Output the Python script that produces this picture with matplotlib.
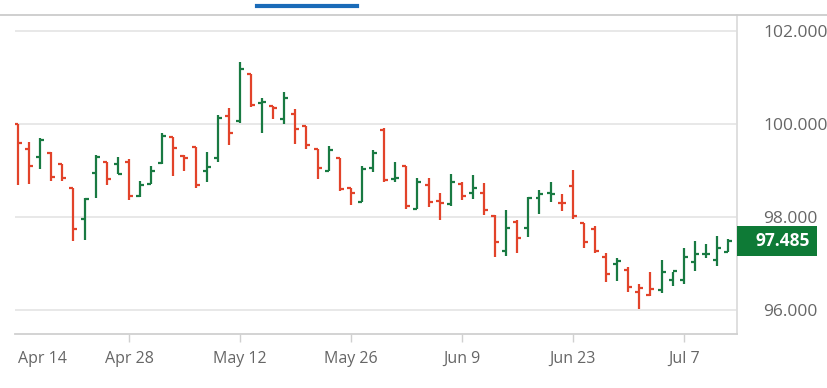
import matplotlib.pyplot as plt
import matplotlib.transforms as mtransforms
from matplotlib.lines import Line2D
from matplotlib.patches import Rectangle
import pandas as pd

# daily OHLC, Apr 14 - Jul 11 (weekdays)
dates = pd.bdate_range("2025-04-14", "2025-07-11")
prev_close = 100.10

opens = [100.01, 99.46, 99.30, 99.38, 99.13, 98.63, 97.95, 98.95, 99.18, 99.14,
         99.19, 98.46, 98.71, 99.17, 99.71, 99.32, 99.51, 99.00, 99.26, 100.17,
         100.07, 101.07, 100.46, 100.39, 100.11, 100.21, 99.96, 99.46, 99.00, 99.28,
         98.63, 98.33, 99.05, 99.87, 98.82, 99.10, 98.17, 98.69, 98.34, 98.29,
         98.72, 98.51, 98.52, 98.02, 97.28, 97.90, 97.77, 98.40, 98.51, 98.30,
         98.67, 97.88, 97.74, 97.15, 96.99, 96.86, 96.40, 96.33, 96.43, 96.66,
         96.66, 97.04, 97.21, 97.08, 97.26]
highs = [100.01, 99.61, 99.69, 99.40, 99.15, 98.63, 98.42, 99.33, 99.18, 99.30,
         99.24, 98.77, 99.10, 99.80, 99.71, 99.33, 99.51, 99.40, 100.19, 100.34,
         101.34, 101.07, 100.55, 100.39, 100.68, 100.32, 99.96, 99.46, 99.53, 99.28,
         98.63, 99.10, 99.44, 99.92, 99.18, 99.10, 98.83, 98.85, 98.52, 98.92,
         98.76, 98.90, 98.74, 98.04, 98.15, 97.94, 98.44, 98.58, 98.76, 98.49,
         99.01, 97.88, 97.80, 97.22, 97.13, 96.93, 96.56, 96.83, 97.08, 96.83,
         97.33, 97.49, 97.42, 97.59, 97.52]
lows = [98.70, 98.72, 99.03, 98.77, 98.77, 97.48, 97.51, 98.40, 98.69, 98.92,
        98.37, 98.44, 98.71, 99.15, 98.88, 98.99, 98.63, 98.76, 99.19, 99.55,
        100.03, 100.37, 99.81, 100.10, 100.01, 99.56, 99.46, 98.82, 98.98, 98.57,
        98.26, 98.32, 98.96, 98.76, 98.76, 98.17, 98.17, 98.21, 97.94, 98.24,
        98.37, 98.38, 98.04, 97.15, 97.16, 97.24, 97.58, 98.06, 98.33, 98.14,
        97.95, 97.33, 97.24, 96.61, 96.63, 96.40, 96.02, 96.30, 96.37, 96.53,
        96.56, 96.85, 97.13, 96.96, 97.26]
closes = [99.60, 99.10, 99.66, 98.86, 98.83, 97.74, 98.38, 99.30, 98.82, 98.93,
          98.45, 98.69, 98.98, 99.75, 99.48, 99.28, 98.69, 99.07, 100.12, 99.80,
          101.18, 100.41, 100.48, 100.34, 100.55, 99.89, 99.55, 99.05, 99.44, 98.60,
          98.51, 99.03, 99.37, 98.80, 98.83, 98.24, 98.76, 98.33, 98.31, 98.76,
          98.45, 98.63, 98.15, 97.47, 97.76, 97.56, 98.42, 98.49, 98.50, 98.30,
          98.02, 97.46, 97.28, 96.77, 97.06, 96.49, 96.47, 96.45, 96.83, 96.84,
          97.15, 97.20, 97.21, 97.33, 97.485]

yticks = [96, 98, 100, 102]
tick_every = 10

RED = "#e2432a"
GREEN = "#197a42"
GRID = "#e6e6e6"
TXT = "#666666"

plt.rcParams["font.family"] = ["Open Sans", "DejaVu Sans"]

fig = plt.figure(figsize=(8.28, 3.88), dpi=100)
W, H = 828, 388
ax = fig.add_axes([15 / W, 1 - 334 / H, (737 - 15) / W, (334 - 15) / H])

x = list(range(len(dates)))
colors = []
last = prev_close
for c in closes:
    colors.append(GREEN if c >= last else RED)
    last = c

tw = 0.36
ax.vlines(x, lows, highs, colors=colors, linewidth=1.6, capstyle="butt", zorder=3)
ax.hlines(opens, [i - tw for i in x], x, colors=colors, linewidth=1.6, zorder=3)
ax.hlines(closes, x, [i + tw for i in x], colors=colors, linewidth=1.6, zorder=3)

ax.set_xlim(-0.27, 64.8)
ax.set_ylim(95.49, 102.34)

for v in yticks:
    ax.axhline(v, color=GRID, linewidth=1.3, zorder=1)

ax.yaxis.tick_right()
ax.set_yticks(yticks)
ax.set_yticklabels([f"{v:.3f}" for v in yticks])
ax.tick_params(axis="y", length=0, pad=19, labelsize=12.5, labelcolor=TXT)

tick_idx = list(range(0, len(dates), tick_every))
ax.set_xticks(tick_idx)
labels = [d.strftime("%b ") + str(d.day) for d in dates[tick_idx]]
ax.set_xticklabels(labels)
ax.tick_params(axis="x", length=6, width=1, color="#d0d0d0", pad=6,
               labelsize=11.5, labelcolor=TXT)
first = ax.get_xticklabels()[0]
first.set_horizontalalignment("left")
first.set_x(-0.27)
ax.xaxis.get_major_ticks()[0].tick1line.set_visible(False)

for s in ["top", "left"]:
    ax.spines[s].set_visible(False)
ax.spines["right"].set_color("#dcdcdc")
ax.spines["right"].set_linewidth(1.3)
ax.spines["bottom"].set_color("#d0d0d0")
ax.spines["bottom"].set_linewidth(1.3)

# header line and tab marker
fig.add_artist(Line2D([0, 1], [1 - 15 / H, 1 - 15 / H], color="#cccccc", linewidth=1.3))
fig.add_artist(Line2D([257 / W, 357 / W], [1 - 5.5 / H, 1 - 5.5 / H], color="#1a6bb8", linewidth=3))

# last price badge
trans = mtransforms.blended_transform_factory(fig.transFigure, ax.transData)
box_h = 30 / 46.55
ax.add_patch(Rectangle((737 / W, closes[-1] - box_h / 2), 80 / W, box_h, transform=trans,
                       facecolor="#0e7a36", edgecolor="none", clip_on=False, zorder=5))
ax.text(810 / W, closes[-1], f"{closes[-1]:.3f}", transform=trans, ha="right", va="center",
        color="white", fontsize=12.5, fontweight="bold", zorder=6)

fig.savefig("out.png", dpi=100)
